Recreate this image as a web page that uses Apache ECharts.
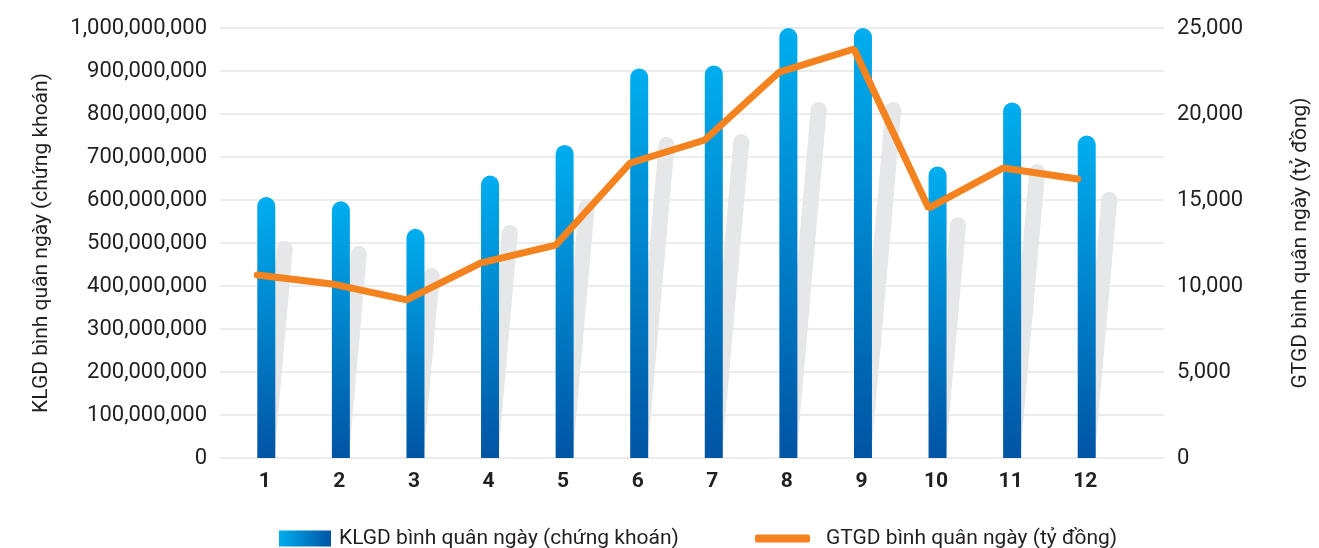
<!DOCTYPE html>
<html>
<head>
<meta charset="utf-8">
<script src="https://cdn.jsdelivr.net/npm/echarts@6/dist/echarts.min.js"></script>
<style>
html,body{margin:0;padding:0;background:#fff;}
#chart{width:1319px;height:548px;}
</style>
</head>
<body>
<div id="chart"></div>
<script>
const months = ['1','2','3','4','5','6','7','8','9','10','11','12'];
const klgd = [607e6, 597e6, 533e6, 657e6, 728e6, 906e6, 913e6, 1003e6, 1003e6, 678e6, 827e6, 750e6];
const klgdShadow = [505e6, 493e6, 442e6, 542e6, 602e6, 747e6, 753e6, 828e6, 828e6, 560e6, 684e6, 619e6];
const gtgd = [10640, 10120, 9190, 11340, 12380, 17150, 18490, 22440, 23780, 14530, 16860, 16220];
const leftTicks = {min: 0, max: 1000000000, interval: 100000000};
const rightTicks = {min: 0, max: 25000, interval: 5000};

const FONT = 'Roboto, "Liberation Sans", sans-serif';
const TXT = '#231f20';
const nameBar = 'KLGD bình quân ngày (chứng khoán)';
const nameLine = 'GTGD bình quân ngày (tỷ đồng)';
const fmt = v => String(Math.round(v)).replace(/\B(?=(\d{3})+(?!\d))/g, ',');

const chart = echarts.init(document.getElementById('chart'), null, {renderer: 'canvas'});

const blueGrad = new echarts.graphic.LinearGradient(0, 0, 0, 1, [
  {offset: 0, color: '#00aeef'},
  {offset: 1, color: '#0054a4'}
]);
const blueGradH = new echarts.graphic.LinearGradient(0, 0, 1, 0, [
  {offset: 0, color: '#00aeef'},
  {offset: 1, color: '#0054a4'}
]);

chart.setOption({
  animation: false,
  backgroundColor: '#fff',
  textStyle: {fontFamily: FONT},
  grid: [
    {left: 220, right: 149, top: 28, bottom: 90},
    {left: 220, right: 204, top: 28, bottom: 90}
  ],
  legend: [
    {
      left: 274, top: 523, itemWidth: 52, itemHeight: 16, itemGap: 0,
      selectedMode: false,
      textStyle: {fontFamily: FONT, fontSize: 21, color: TXT, padding: [0,0,0,3]},
      data: [{name: nameBar, icon: 'rect', itemStyle: {color: blueGradH}}]
    },
    {
      left: 750, top: 523, itemWidth: 55, itemHeight: 8, itemGap: 0,
      selectedMode: false,
      textStyle: {fontFamily: FONT, fontSize: 21, color: TXT, padding: [0,0,0,11]},
      data: [{name: nameLine, icon: 'roundRect', itemStyle: {color: '#f4821f'}}]
    }
  ],
  xAxis: [
    {gridIndex: 0, type: 'value', min: 0, max: 1, show: false},
    {
      gridIndex: 1, type: 'category', data: months,
      axisLine: {show: false}, axisTick: {show: false},
      axisLabel: {fontFamily: FONT, fontSize: 21, fontWeight: 'bold', color: TXT, margin: 13, padding: [0,0,0,15]}
    }
  ],
  yAxis: [
    {
      gridIndex: 0, type: 'value', position: 'left',
      min: leftTicks.min, max: leftTicks.max, interval: leftTicks.interval,
      name: nameBar, nameLocation: 'middle', nameGap: 168,
      nameTextStyle: {fontFamily: FONT, fontSize: 21, color: TXT},
      axisLine: {show: false}, axisTick: {show: false},
      axisLabel: {fontFamily: FONT, fontSize: 22, color: TXT, margin: 13, formatter: fmt},
      splitLine: {lineStyle: {color: '#e6e6e6', width: 1.5}}
    },
    {
      gridIndex: 0, type: 'value', position: 'right',
      min: rightTicks.min, max: rightTicks.max, interval: rightTicks.interval,
      name: nameLine, nameLocation: 'middle', nameGap: 126,
      nameTextStyle: {fontFamily: FONT, fontSize: 21, color: TXT},
      axisLine: {show: false}, axisTick: {show: false},
      axisLabel: {fontFamily: FONT, fontSize: 22, color: TXT, margin: 13, formatter: fmt},
      splitLine: {show: false}
    },
    {gridIndex: 1, type: 'value', min: leftTicks.min, max: leftTicks.max, interval: leftTicks.interval, show: false, splitLine: {show: false}},
    {gridIndex: 1, type: 'value', min: rightTicks.min, max: rightTicks.max, interval: rightTicks.interval, show: false, splitLine: {show: false}}
  ],
  series: [
    {
      type: 'custom', name: 'shadow', xAxisIndex: 1, yAxisIndex: 2, z: 1, silent: true,
      data: klgdShadow.map((v, i) => [i, v]),
      renderItem: function (params, api) {
        const i = api.value(0), v = api.value(1);
        const b = api.coord([i, 0]);
        const t = api.coord([i, v]);
        const w = 16, r = w / 2;
        const h = b[1] - t[1];
        const s = 0.085 * h;
        const x0 = b[0] + 1;
        const topY = t[1] + r;
        return {
          type: 'group',
          children: [
            {type: 'polygon', shape: {points: [[x0, b[1]], [x0 + w, b[1]], [x0 + w + s, topY], [x0 + s, topY]]}, style: {fill: '#e6e7e8'}},
            {type: 'circle', shape: {cx: x0 + s + r, cy: topY, r: r}, style: {fill: '#e6e7e8'}}
          ]
        };
      }
    },
    {
      type: 'bar', name: 'placeholder', xAxisIndex: 1, yAxisIndex: 2, silent: true,
      barWidth: 18, barGap: '0%',
      itemStyle: {color: 'rgba(0,0,0,0)'},
      data: months.map(() => '-')
    },
    {
      type: 'bar', name: nameBar, xAxisIndex: 1, yAxisIndex: 2, z: 2,
      barWidth: 18, barGap: '0%',
      itemStyle: {color: blueGrad, borderRadius: [9, 9, 0, 0]},
      data: klgd
    },
    {
      type: 'line', name: nameLine, xAxisIndex: 1, yAxisIndex: 3, z: 3,
      symbol: 'none',
      lineStyle: {color: '#f4821f', width: 7, cap: 'round'},
      itemStyle: {color: '#f4821f'},
      data: gtgd
    }
  ]
});
</script>
</body>
</html>
